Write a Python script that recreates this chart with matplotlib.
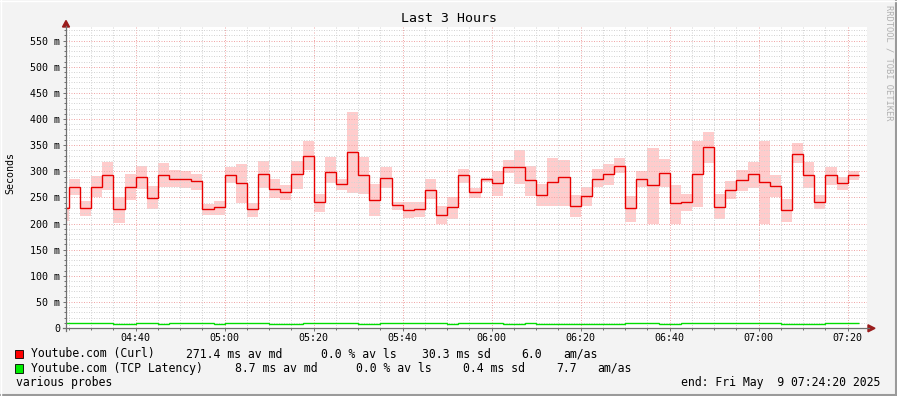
import numpy as np
import matplotlib
matplotlib.use("Agg")
import matplotlib.pyplot as plt
from matplotlib.lines import Line2D
from matplotlib.patches import Polygon, Rectangle

# Data (2.5 min steps, first step ends 04:25:00; times in minutes since midnight)
first_step_start = 262.5
step_minutes = 2.5
view_start = 4 * 60 + 24 + 20 / 60     # 04:24:20
view_end = 7 * 60 + 24 + 20 / 60       # 07:24:20

curl_median = [229, 270, 229, 270, 292, 228, 269, 290, 248, 292, 286, 285, 281, 227, 231,
               292, 277, 227, 294, 267, 260, 294, 330, 241, 298, 275, 336, 292, 245, 288,
               235, 226, 228, 265, 216, 231, 292, 260, 286, 277, 309, 309, 283, 254, 279,
               290, 233, 252, 286, 294, 311, 229, 285, 273, 297, 239, 241, 294, 346, 231,
               265, 283, 294, 279, 271, 225, 334, 292, 241, 292, 278, 292]
curl_low = [205, 255, 214, 251, 265, 201, 245, 267, 227, 270, 269, 268, 265, 216, 216,
            278, 240, 213, 268, 249, 245, 266, 302, 222, 277, 264, 259, 256, 214, 268,
            226, 210, 213, 246, 199, 209, 278, 249, 280, 253, 296, 276, 253, 234, 234,
            234, 212, 234, 269, 274, 296, 203, 269, 200, 269, 200, 224, 232, 316, 208,
            247, 263, 268, 200, 250, 203, 315, 268, 228, 274, 264, 283]
curl_high = [232, 286, 243, 291, 318, 250, 295, 311, 272, 316, 302, 300, 295, 237, 244,
             309, 314, 239, 320, 285, 274, 320, 358, 256, 328, 285, 413, 328, 276, 309,
             241, 241, 241, 285, 233, 251, 304, 268, 288, 300, 322, 341, 310, 276, 325,
             322, 255, 269, 304, 313, 325, 253, 300, 345, 323, 274, 256, 358, 375, 256,
             281, 302, 318, 358, 293, 247, 354, 318, 255, 309, 290, 300]
tcp_median = [9.3, 9.3, 9.3, 9.3, 9.3, 7.5, 7.5, 9.3, 9.3, 7.5, 9.3, 9.3, 9.3, 9.3, 7.5,
              9.3, 9.3, 9.3, 9.3, 7.5, 7.5, 7.5, 9.3, 9.3, 9.3, 9.3, 9.3, 7.5, 7.5, 9.3,
              9.3, 9.3, 9.3, 9.3, 9.3, 7.5, 9.3, 9.3, 9.3, 9.3, 7.5, 7.5, 9.3, 7.5, 7.5,
              7.5, 7.5, 7.5, 7.5, 7.5, 7.5, 9.3, 9.3, 9.3, 7.5, 7.5, 9.3, 9.3, 9.3, 9.3,
              9.3, 9.3, 9.3, 9.3, 9.3, 7.5, 7.5, 7.5, 7.5, 9.3, 9.3, 9.3]

y_ticks = [0, 50, 100, 150, 200, 250, 300, 350, 400, 450, 500, 550]
y_labels = ["0", "50 m", "100 m", "150 m", "200 m", "250 m", "300 m", "350 m",
            "400 m", "450 m", "500 m", "550 m"]
x_ticks = [280, 300, 320, 340, 360, 380, 400, 420, 440]
x_labels = ["04:40", "05:00", "05:20", "05:40", "06:00", "06:20", "06:40", "07:00", "07:20"]

legend_rows = [
    ["Youtube.com (Curl)", "271.4 ms av md", "0.0 % av ls", "30.3 ms sd", "6.0", "am/as"],
    ["Youtube.com (TCP Latency)", "8.7 ms av md", "0.0 % av ls", "0.4 ms sd", "7.7", "am/as"],
]

W, H = 897, 396
BG = "#f3f3f3"
MONO = "DejaVu Sans Mono"


def fx(x):
    return x / W


def fy(y):
    return 1 - y / H


fig = plt.figure(figsize=(W / 100, H / 100), dpi=100, facecolor=BG)
ax = fig.add_axes([fx(66), fy(328), (867 - 66) / W, (328 - 27) / H])
ax.set_facecolor("white")

edges = first_step_start + step_minutes * np.arange(len(curl_median) + 1)

ax.stairs(curl_high, edges, baseline=curl_low, fill=True, color="#ffcccc", lw=0, zorder=1)
ax.stairs(curl_median, edges, baseline=None, color="#e80000", lw=1.0, zorder=3)
ax.stairs(tcp_median, edges, baseline=None, color="#00dd00", lw=1.0, zorder=3)

ax.set_xlim(view_start, view_end)
ax.set_ylim(0, 301 / 0.5224)

ax.set_yticks(y_ticks)
ax.set_yticklabels(y_labels)
ax.set_yticks(np.arange(0, 580, 10), minor=True)
ax.set_xticks(x_ticks)
ax.set_xticklabels(x_labels)
ax.set_xticks(np.arange(265, 445, 5), minor=True)

ax.grid(which="minor", color="#d4d4d4", ls=(0, (1, 1.5)), lw=0.72)
ax.grid(which="major", color="#f0a8a8", ls=(0, (1, 1.5)), lw=0.72)
ax.set_axisbelow(False)

for s in ax.spines.values():
    s.set_visible(False)
ax.tick_params(which="major", length=2.2, width=0.7, color="#707070", pad=2.2,
               labelsize=7.2, labelfontfamily=MONO)
ax.tick_params(which="minor", length=1.4, width=0.7, color="#707070")
ax.tick_params(axis="x", pad=1.5)

# axes with arrows, rrdtool style
axis_col = "#707070"
arrow_col = "#9a1c1c"
fig.add_artist(Line2D([fx(62.5), fx(869)], [fy(328.3), fy(328.3)], color=axis_col, lw=0.9))
fig.add_artist(Line2D([fx(66), fx(66)], [fy(331), fy(26)], color=axis_col, lw=0.9))
fig.add_artist(Polygon([(fx(868), fy(324.8)), (fx(875), fy(328.3)), (fx(868), fy(331.8))],
                       closed=True, color=arrow_col, transform=fig.transFigure))
fig.add_artist(Polygon([(fx(62.5), fy(27)), (fx(66), fy(20.5)), (fx(69.5), fy(27))],
                       closed=True, color=arrow_col, transform=fig.transFigure))

# texts
fig.text(0.5, fy(19), "Last 3 Hours", ha="center", va="center", fontsize=9.5, family=MONO)
fig.text(fx(10), fy(173), "Seconds", rotation=90, ha="center", va="center",
         fontsize=7.2, family=MONO)
fig.text(fx(889), fy(5), "RRDTOOL / TOBI OETIKER", rotation=270, ha="center", va="top",
         fontsize=6.3, family=MONO, color="#b0b0b0")

col_x = [[30.7, 185.7, 321, 421.7, 521, 563.3], [30.7, 235.3, 356, 463.3, 556, 597.7]]
row_y = [354, 368.3]
box_cols = ["#ff0000", "#00ee00"]
for row, xs, y, c in zip(legend_rows, col_x, row_y, box_cols):
    fig.add_artist(Rectangle((fx(15), fy(y + 4.3)), 7.5 / W, 8.5 / H, facecolor=c,
                             edgecolor="black", lw=0.6, transform=fig.transFigure))
    for txt, x in zip(row, xs):
        fig.text(fx(x), fy(y), txt, ha="left", va="center", fontsize=8.3, family=MONO)
fig.text(fx(16), fy(382.3), "various probes", ha="left", va="center", fontsize=8.3, family=MONO)
fig.text(fx(880), fy(382.3), "end: Fri May  9 07:24:20 2025", ha="right", va="center",
         fontsize=8.3, family=MONO)

# 3d frame
fig.add_artist(Line2D([0, 1], [fy(395), fy(395)], color="#9a9a9a", lw=1.5))
fig.add_artist(Line2D([fx(896), fx(896)], [0, 1], color="#9a9a9a", lw=1.5))
fig.add_artist(Line2D([0, 1], [fy(0.5), fy(0.5)], color="white", lw=1))
fig.add_artist(Line2D([fx(0.5), fx(0.5)], [0, 1], color="white", lw=1))

fig.savefig("out.png", dpi=100, facecolor=BG)
